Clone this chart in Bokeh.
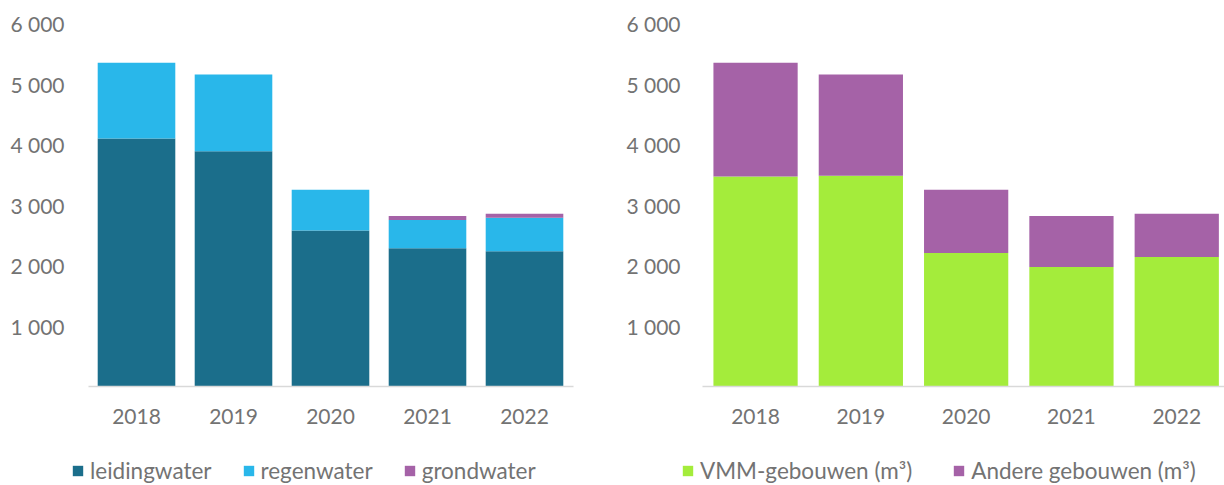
from bokeh.plotting import figure
from bokeh.layouts import row
from bokeh.models import (ColumnDataSource, Range1d, FixedTicker, Legend, LegendItem)
from bokeh.embed import file_html
from bokeh.resources import INLINE

# ---- data ----
years = ["2018", "2019", "2020", "2021", "2022"]
leidingwater = [4100, 3890, 2580, 2285, 2235]
regenwater = [1250, 1265, 673, 467, 555]
grondwater = [0, 0, 0, 66, 66]

vmm_gebouwen = [3470, 3485, 2205, 1975, 2140]
andere_gebouwen = [1880, 1670, 1048, 843, 716]

y_ticks = [1000, 2000, 3000, 4000, 5000, 6000]

left_names = ["leidingwater", "regenwater", "grondwater"]
left_colors = ["#1b6e8b", "#29b7ea", "#a562a7"]
right_names = ["VMM-gebouwen (m³)", "Andere gebouwen (m³)"]
right_colors = ["#a4ec3b", "#a562a7"]

# ---- layout / style ----
FONT = "Lato"
TXT = "#737373"
FIG_H = 485
TOP = 23            # frame top (value 6000)
ZERO_PX = 363       # pixels from 6000 down to 0
FRAME_H = FIG_H - TOP
Y_MAX = 6000
Y_MIN = -Y_MAX * (FRAME_H - ZERO_PX) / ZERO_PX

xpos = [i + 0.5 for i in range(len(years))]


def make_fig(width, border_left, unit, zero_off, label_standoff,
             keys, data, names, colors, leg_x, leg_spacing):
    frame_w = width - border_left
    x_start = -zero_off / unit
    x_end = (frame_w - zero_off) / unit
    src = ColumnDataSource(dict(x=xpos, **{k: v for k, v in zip(keys, data)}))
    p = figure(width=width, height=FIG_H, output_backend="svg",
               toolbar_location=None,
               x_range=Range1d(x_start, x_end), y_range=Range1d(Y_MIN, Y_MAX),
               min_border_left=border_left, min_border_right=0,
               min_border_top=TOP, min_border_bottom=0)
    p.outline_line_color = None
    p.xgrid.visible = False
    p.ygrid.visible = False
    rs = p.vbar_stack(keys, x="x", width=0.8, source=src, color=colors,
                      line_color=None)

    xa = p.xaxis[0]
    xa.fixed_location = 0
    xa.bounds = (0, len(years))
    xa.ticker = FixedTicker(ticks=xpos)
    xa.major_label_overrides = {x: y for x, y in zip(xpos, years)}
    xa.axis_line_color = "#d9d9d9"
    xa.axis_line_width = 1.5
    xa.major_tick_line_color = None
    xa.major_tick_out = 0
    xa.major_tick_in = 0
    xa.minor_tick_line_color = None
    xa.major_label_standoff = 22
    xa.major_label_text_font = FONT
    xa.major_label_text_font_size = "21px"
    xa.major_label_text_color = TXT

    ya = p.yaxis[0]
    ya.ticker = FixedTicker(ticks=y_ticks)
    ya.major_label_overrides = {t: f"{t:,}".replace(",", " ") for t in y_ticks}
    ya.axis_line_color = None
    ya.major_tick_line_color = None
    ya.major_tick_out = 0
    ya.major_tick_in = 0
    ya.minor_tick_line_color = None
    ya.major_label_standoff = label_standoff
    ya.major_label_text_font = FONT
    ya.major_label_text_font_size = "21px"
    ya.major_label_text_color = TXT

    items = [LegendItem(label=n, renderers=[r]) for n, r in zip(names, rs)]
    leg = Legend(items=items, orientation="horizontal", location=(leg_x, 1),
                 glyph_width=13, glyph_height=13, label_standoff=6,
                 spacing=leg_spacing, padding=0, margin=0,
                 border_line_color=None, background_fill_alpha=0,
                 label_text_font=FONT, label_text_font_size="22.5px",
                 label_text_color=TXT)
    p.add_layout(leg, "center")
    return p


p1 = make_fig(600, 66, 97.0, 21.5, 2,
              ["leidingwater", "regenwater", "grondwater"],
              [leidingwater, regenwater, grondwater], left_names, left_colors,
              5, 30)
p2 = make_fig(624, 80, 105.3, 22.4, 0, ["vmm", "andere"],
              [vmm_gebouwen, andere_gebouwen], right_names, right_colors,
              1, 40)

layout = row(p1, p2)
open("out.html", "w").write(file_html(layout, INLINE))
